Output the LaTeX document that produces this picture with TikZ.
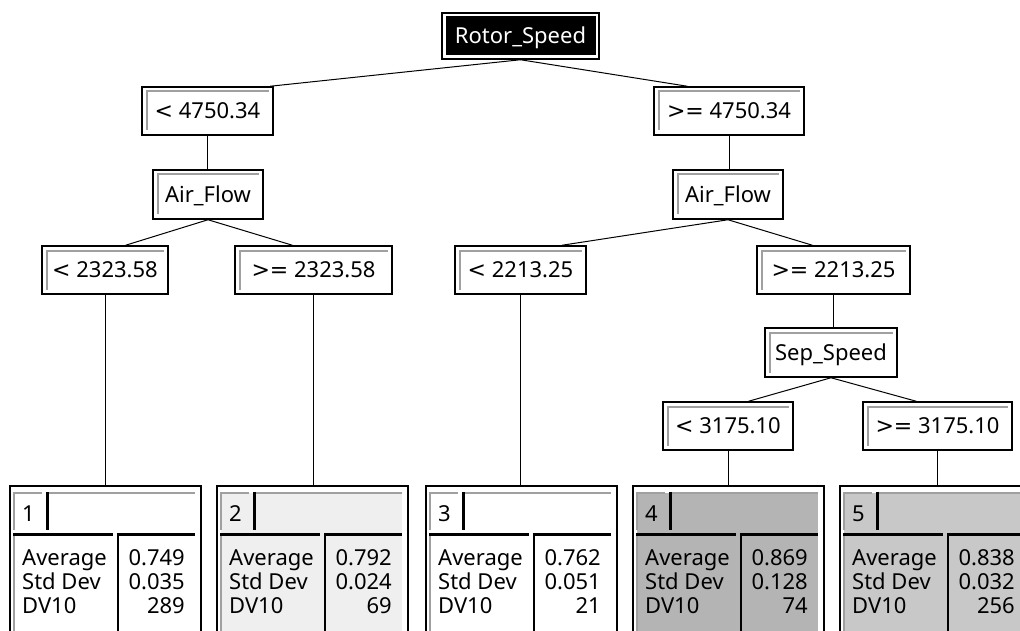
\documentclass[tikz,border=0pt]{standalone}
\usepackage{fontspec}
\setmainfont{Noto Sans}
\newfontfamily\symfont{DejaVu Sans}
\usetikzlibrary{calc}
\definecolor{edgegray}{HTML}{A0A0A0}
\definecolor{leafB}{HTML}{EFEFEF}
\definecolor{leafD}{HTML}{B4B4B4}
\definecolor{leafE}{HTML}{C8C8C8}
\newcommand{\cmpsym}[1]{{\symfont #1}}
\tikzset{
  every node/.style={font=\fontsize{22}{24}\selectfont},
  box/.style={draw, line width=1.5pt, fill=white, inner sep=0pt, text height=15.7pt, text depth=0pt,
    minimum height=48pt,
    path picture={\draw[edgegray, line width=2pt]
      ([shift={(4.5pt,4.5pt)}]path picture bounding box.south west) |-
      ([shift={(-4.5pt,-4.5pt)}]path picture bounding box.north east);}},
  rootbox/.style={draw, line width=1.5pt, fill=white, inner sep=0pt, text height=15.7pt, text depth=0pt,
    text=white, minimum width=157pt, minimum height=46pt,
    path picture={\fill[black]
      ([shift={(3.5pt,3.5pt)}]path picture bounding box.south west) rectangle
      ([shift={(-3.5pt,-3.5pt)}]path picture bounding box.north east);}},
  conn/.style={line width=1pt},
  leafbox/.style={draw, line width=1.5pt, fill=white, minimum width=191pt, minimum height=170pt, inner sep=0pt},
  leaftext/.style={inner sep=0pt},
  grayedge/.style={edgegray, line width=2pt},
  blackedge/.style={line width=3pt}
}
\newcommand{\leafnode}[7]{%
  \node[leafbox, anchor=north west] (#1) at (#2,485) {};
  \begin{scope}[shift={(#2,485)}]
    \fill[#3] (5,8) rectangle (186,175);
    \draw[grayedge] (5,45) -- (5,8) -- (33,8);
    \draw[grayedge] (39,8) -- (186,8);
    \draw[blackedge] (38,7) -- (38,45);
    \draw[grayedge] (5,49) -- (5,175);
    \draw[blackedge] (4,49.5) -- (104,49.5);
    \draw[blackedge] (108,49.5) -- (186,49.5);
    \draw[line width=2.5pt] (109,49.5) -- (109,175);
    \node[leaftext, anchor=base west] at (13,36) {#4};
    \node[leaftext, anchor=base west] at (13,80) {Average};
    \node[leaftext, anchor=base west] at (13,104) {Std Dev};
    \node[leaftext, anchor=base west] at (13,128) {DV10};
    \node[leaftext, anchor=base east] at (176,80) {#5};
    \node[leaftext, anchor=base east] at (176,104) {#6};
    \node[leaftext, anchor=base east] at (176,128) {#7};
  \end{scope}}
\begin{document}
\begin{tikzpicture}[x=1pt, y=-1pt]
\useasboundingbox (0,0) rectangle (1020,631);
\clip (0,0) rectangle (1020,631);
\fill[white] (0,0) rectangle (1020,631);

% split/decision nodes
\node[rootbox] (root) at (520.5,36) {Rotor\_Speed};
\node[box, minimum width=131pt] (s1) at (207.5,111) {\cmpsym{<} 4750.34};
\node[box, minimum width=150pt] (s2) at (729,111) {\cmpsym{>=} 4750.34};
\node[box, minimum width=110pt, minimum height=49pt] (a1) at (208,194.5) {Air\_Flow};
\node[box, minimum width=110pt, minimum height=49pt] (a2) at (728,194.5) {Air\_Flow};
\node[box, minimum width=126pt] (s11) at (105,270) {\cmpsym{<} 2323.58};
\node[box, minimum width=157pt] (s12) at (313.5,270) {\cmpsym{>=} 2323.58};
\node[box, minimum width=131pt] (s21) at (520.5,270) {\cmpsym{<} 2213.25};
\node[box, minimum width=153pt] (s22) at (833.5,270) {\cmpsym{>=} 2213.25};
\node[box, minimum width=132pt, minimum height=49pt] (sp) at (831,352.5) {Sep\_Speed};
\node[box, minimum width=130pt] (s221) at (728,426) {\cmpsym{<} 3175.10};
\node[box, minimum width=149pt] (s222) at (937.5,426) {\cmpsym{>=} 3175.10};

% leaves
\leafnode{l1}{9}{white}{1}{0.749}{0.035}{289}
\leafnode{l2}{216}{leafB}{2}{0.792}{0.024}{69}
\leafnode{l3}{425}{white}{3}{0.762}{0.051}{21}
\leafnode{l4}{632}{leafD}{4}{0.869}{0.128}{74}
\leafnode{l5}{839}{leafE}{5}{0.838}{0.032}{256}

% connectors
\draw[conn] (root.south) -- ($(s1.north)!0.2!(s1.north -| root.south)$);
\draw[conn] (root.south) -- ($(s2.north)!0.2!(s2.north -| root.south)$);
\draw[conn] (s1.south) -- (s1.south |- a1.north);
\draw[conn] (s2.south) -- (s2.south |- a2.north);
\draw[conn] (a1.south) -- ($(s11.north)!0.2!(s11.north -| a1.south)$);
\draw[conn] (a1.south) -- ($(s12.north)!0.2!(s12.north -| a1.south)$);
\draw[conn] (a2.south) -- ($(s21.north)!0.2!(s21.north -| a2.south)$);
\draw[conn] (a2.south) -- ($(s22.north)!0.2!(s22.north -| a2.south)$);
\draw[conn] (s22.south) -- (s22.south |- sp.north);
\draw[conn] (sp.south) -- ($(s221.north)!0.2!(s221.north -| sp.south)$);
\draw[conn] (sp.south) -- ($(s222.north)!0.2!(s222.north -| sp.south)$);
\draw[conn] (s11.south) -- (s11.south |- l1.north);
\draw[conn] (s12.south) -- (s12.south |- l2.north);
\draw[conn] (s21.south) -- (s21.south |- l3.north);
\draw[conn] (s221.south) -- (s221.south |- l4.north);
\draw[conn] (s222.south) -- (s222.south |- l5.north);
\end{tikzpicture}
\end{document}
